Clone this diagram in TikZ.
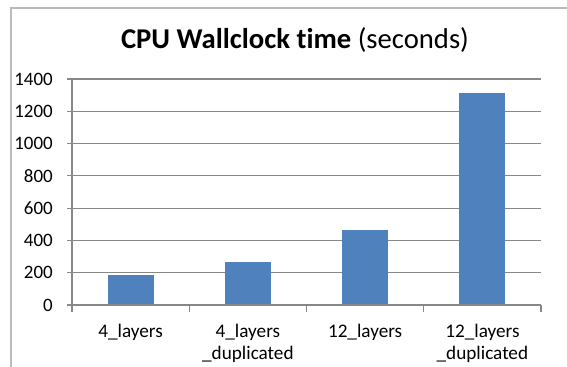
\documentclass[tikz,border=0pt]{standalone}
\usepackage{fontspec}
\setmainfont[Ligatures=NoCommon]{Carlito}
\definecolor{barblue}{HTML}{4F81BD}
\definecolor{gridgray}{HTML}{888888}
\definecolor{framegray}{HTML}{BBBBBB}

\begin{document}
\begin{tikzpicture}[x=0.75pt,y=-0.75pt,
		grid/.style={draw=gridgray,line width=0.8pt},
		bar/.style={fill=barblue,draw=none},
		ticklabel/.style={anchor=east,inner sep=0pt,font=\fontsize{14.2}{16}\selectfont},
		catlabel/.style={anchor=north,align=center,inner sep=0pt,font=\fontsize{14.4}{16.5}\selectfont}]
		\useasboundingbox (0,0) rectangle (567,367);

		% chart frame
		\draw [framegray, line width=1pt] (11,367) -- (11,8) -- (567,8);

		\node [anchor=base, inner sep=0pt, font=\fontsize{21.5}{23}\selectfont] (title) at (295,49) {\textbf{CPU Wallclock time} (seconds)};

		% gridlines and values
		\foreach \v in {0,200,...,1400} {
			\draw [grid] (67,305-\v*0.1614) -- (541,305-\v*0.1614);
			\node [ticklabel] (y\v) at (53,305-\v*0.1614) {\v};
		}

		% bars
		\foreach \i/\v in {1/186,2/266,3/465,4/1313} {
			\fill [bar] (72+\i*117.25-117.25/2-23,305) rectangle (72+\i*117.25-117.25/2+23,305-\v*0.1614);
		}

		% axes
		\coordinate (o) at (72,305);
		\coordinate (top) at (72,79);
		\coordinate (end) at (541,305);
		\draw [grid] (o) -- (top);
		\draw [grid] (o) -- (end);
		\foreach \i in {0,...,4}
			\draw [grid] (72+\i*117.25,305) -- (72+\i*117.25,312);

		\node [catlabel] (c1) at (130.6,324) {4\_layers};
		\node [catlabel] (c2) at (247.9,324) {4\_layers\\\_duplicated};
		\node [catlabel] (c3) at (365.1,324) {12\_layers};
		\node [catlabel] (c4) at (482.4,324) {12\_layers\\\_duplicated};
\end{tikzpicture}
\end{document}
